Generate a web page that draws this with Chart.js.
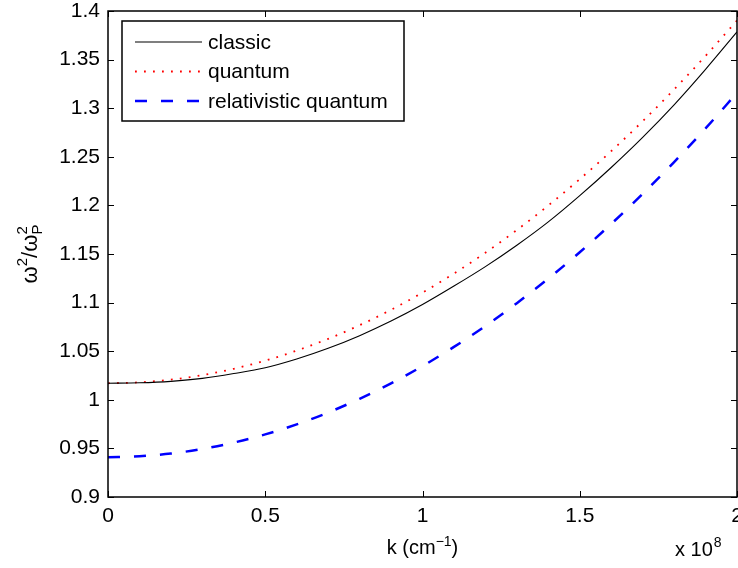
<!DOCTYPE html>
<html>
<head>
<meta charset="utf-8">
<script src="https://cdn.jsdelivr.net/npm/chart.js@4.4.0/dist/chart.umd.min.js"></script>
<style>
  html, body { margin: 0; padding: 0; background: #fff; overflow: hidden; }
  #wrap { width: 760px; height: 568px; }
</style>
</head>
<body>
<div id="wrap"><canvas id="myChart" width="760" height="568"></canvas></div>
<script>
// k in units of 1e8 cm^-1
let kValues = [0, 0.1, 0.2, 0.3, 0.4, 0.5, 0.6, 0.7, 0.8, 0.9, 1.0,
               1.1, 1.2, 1.3, 1.4, 1.5, 1.6, 1.7, 1.8, 1.9, 2.0];
let classicValues = [1.017, 1.0175, 1.019, 1.022, 1.027, 1.033, 1.042, 1.053, 1.066, 1.081, 1.098,
                     1.117, 1.137, 1.159, 1.183, 1.210, 1.239, 1.270, 1.3035, 1.340, 1.3785];
let quantumValues = [1.017, 1.018, 1.0207, 1.0254, 1.0319, 1.0403, 1.0506, 1.0627, 1.0767, 1.0926, 1.1103,
                     1.1299, 1.1514, 1.1747, 1.1999, 1.227, 1.2558, 1.2866, 1.3193, 1.3538, 1.3902];
let relQuantumValues = [0.941, 0.9419, 0.9447, 0.9494, 0.956, 0.9644, 0.9747, 0.9869, 1.001, 1.0169, 1.0347,
                        1.0544, 1.0759, 1.0994, 1.1247, 1.1518, 1.1809, 1.2118, 1.2446, 1.2792, 1.3158];
let seriesNames = ['classic', 'quantum', 'relativistic quantum'];
let xTickLabels = ['0', '0.5', '1', '1.5', '2'];
let yTickLabels = ['0.9', '0.95', '1', '1.05', '1.1', '1.15', '1.2', '1.25', '1.3', '1.35', '1.4'];

const fontFam = '"Liberation Sans", Arial, Helvetica, sans-serif';

function pts(ys) {
    return kValues.map((k, i) => ({ x: k, y: ys[i] }));
}

// axes box, inward ticks, titles and legend drawn like matlab
const matlabDecor = {
    id: 'matlabDecor',
    afterDraw(chart) {
        const ctx = chart.ctx;
        const a = chart.chartArea;
        const xs = chart.scales.x;
        const ys = chart.scales.y;
        ctx.save();
        ctx.strokeStyle = '#000';
        ctx.lineWidth = 1;
        // ticks
        ctx.beginPath();
        xs.ticks.forEach(t => {
            const px = Math.round(xs.getPixelForValue(t.value)) + 0.5;
            ctx.moveTo(px, a.bottom); ctx.lineTo(px, a.bottom - 6);
            ctx.moveTo(px, a.top); ctx.lineTo(px, a.top + 6);
        });
        ys.ticks.forEach(t => {
            const py = Math.round(ys.getPixelForValue(t.value)) + 0.5;
            ctx.moveTo(a.left, py); ctx.lineTo(a.left + 6, py);
            ctx.moveTo(a.right, py); ctx.lineTo(a.right - 6, py);
        });
        ctx.stroke();
        ctx.lineWidth = 1.5;
        ctx.strokeRect(a.left, a.top, a.right - a.left, a.bottom - a.top);

        ctx.fillStyle = '#000';
        ctx.textBaseline = 'alphabetic';
        // x title  k (cm^-1)
        const cx = (a.left + a.right) / 2;
        const p1 = 'k (cm', p3 = ')';
        ctx.font = '14px ' + fontFam;
        const w2 = ctx.measureText('\u22121').width;
        ctx.font = '20px ' + fontFam;
        const w1 = ctx.measureText(p1).width, w3 = ctx.measureText(p3).width;
        let sx = cx - (w1 + w2 + w3) / 2;
        const by = 554;
        ctx.textAlign = 'left';
        ctx.fillText(p1, sx, by);
        ctx.font = '14px ' + fontFam;
        ctx.fillText('\u22121', sx + w1, by - 8);
        ctx.font = '20px ' + fontFam;
        ctx.fillText(p3, sx + w1 + w2, by);

        // exponent  x 10^8
        ctx.font = '20px ' + fontFam;
        ctx.fillText('x 10', 675, 556);
        const we = ctx.measureText('x 10').width;
        ctx.font = '14px ' + fontFam;
        ctx.fillText('8', 675 + we + 1, 547);

        // y title  omega^2 / omega_P^2
        ctx.save();
        ctx.translate(30, (a.top + a.bottom) / 2);
        ctx.rotate(-Math.PI / 2);
        ctx.font = '22px ' + fontFam;
        const wo = ctx.measureText('\u03c9').width;
        const ws = ctx.measureText('/\u03c9').width;
        ctx.font = '15px ' + fontFam;
        const w2s = ctx.measureText('2').width;
        const wP = ctx.measureText('P').width;
        const total = wo + w2s + ws + Math.max(w2s, wP);
        let tx = -total / 2;
        const ty = 7;
        ctx.font = '22px ' + fontFam;
        ctx.fillText('\u03c9', tx, ty); tx += wo;
        ctx.font = '15px ' + fontFam;
        ctx.fillText('2', tx, ty - 10); tx += w2s;
        ctx.font = '22px ' + fontFam;
        ctx.fillText('/\u03c9', tx, ty); tx += ws;
        ctx.font = '15px ' + fontFam;
        ctx.fillText('2', tx, ty - 10);
        ctx.fillText('P', tx, ty + 5);
        ctx.restore();

        // legend box
        const lx = a.left + 14, ly = a.top + 10, lw = 282, lh = 100;
        ctx.fillStyle = '#fff';
        ctx.fillRect(lx, ly, lw, lh);
        ctx.lineWidth = 1.5;
        ctx.strokeStyle = '#000';
        ctx.strokeRect(lx, ly, lw, lh);
        chart.data.datasets.forEach((ds, i) => {
            const yy = ly + 21 + i * 29.5;
            ctx.save();
            ctx.strokeStyle = ds.borderColor;
            ctx.lineWidth = ds.borderWidth;
            ctx.setLineDash(ds.borderDash || []);
            ctx.beginPath();
            ctx.moveTo(lx + 13, yy);
            ctx.lineTo(lx + 80, yy);
            ctx.stroke();
            ctx.restore();
            ctx.fillStyle = '#000';
            ctx.font = '21px ' + fontFam;
            ctx.textBaseline = 'middle';
            ctx.fillText(ds.label, lx + 86, yy + 1);
        });
        ctx.restore();
    }
};

let myChart = document.getElementById('myChart').getContext('2d');
let dispChart = new Chart(myChart, {
    type: 'line',
    data: {
        datasets: [{
            label: seriesNames[0],
            data: pts(classicValues),
            borderColor: '#000000',
            borderWidth: 1.1,
            pointRadius: 0,
            cubicInterpolationMode: 'monotone'
        }, {
            label: seriesNames[1],
            data: pts(quantumValues),
            borderColor: '#ff0000',
            borderWidth: 1.8,
            borderDash: [1.8, 7.2],
            pointRadius: 0,
            cubicInterpolationMode: 'monotone'
        }, {
            label: seriesNames[2],
            data: pts(relQuantumValues),
            borderColor: '#0000ff',
            borderWidth: 2.5,
            borderDash: [12, 14],
            pointRadius: 0,
            cubicInterpolationMode: 'monotone'
        }]
    },
    options: {
        responsive: false,
        animation: false,
        layout: { padding: { top: 11, right: 23, left: 0, bottom: 0 } },
        plugins: {
            legend: { display: false },
            tooltip: { enabled: false }
        },
        scales: {
            x: {
                type: 'linear',
                min: 0, max: 2,
                grid: { display: false, drawTicks: false },
                border: { display: false },
                ticks: {
                    stepSize: 0.5,
                    padding: 7,
                    color: '#000',
                    maxRotation: 0,
                    font: { family: fontFam, size: 21 },
                    callback: (v, i) => xTickLabels[i]
                },
                afterFit: s => {
                    s.height = 71;
                    s.paddingLeft = 0;
                    s.paddingRight = 0;
                }
            },
            y: {
                type: 'linear',
                min: 0.9, max: 1.4,
                grid: { display: false, drawTicks: false },
                border: { display: false },
                ticks: {
                    stepSize: 0.05,
                    padding: 8,
                    color: '#000',
                    font: { family: fontFam, size: 21 },
                    callback: (v, i) => yTickLabels[i]
                },
                afterFit: s => {
                    s.width = 108;
                    s.paddingTop = 0;
                    s.paddingBottom = 0;
                }
            }
        }
    },
    plugins: [matlabDecor]
});
</script>
</body>
</html>
